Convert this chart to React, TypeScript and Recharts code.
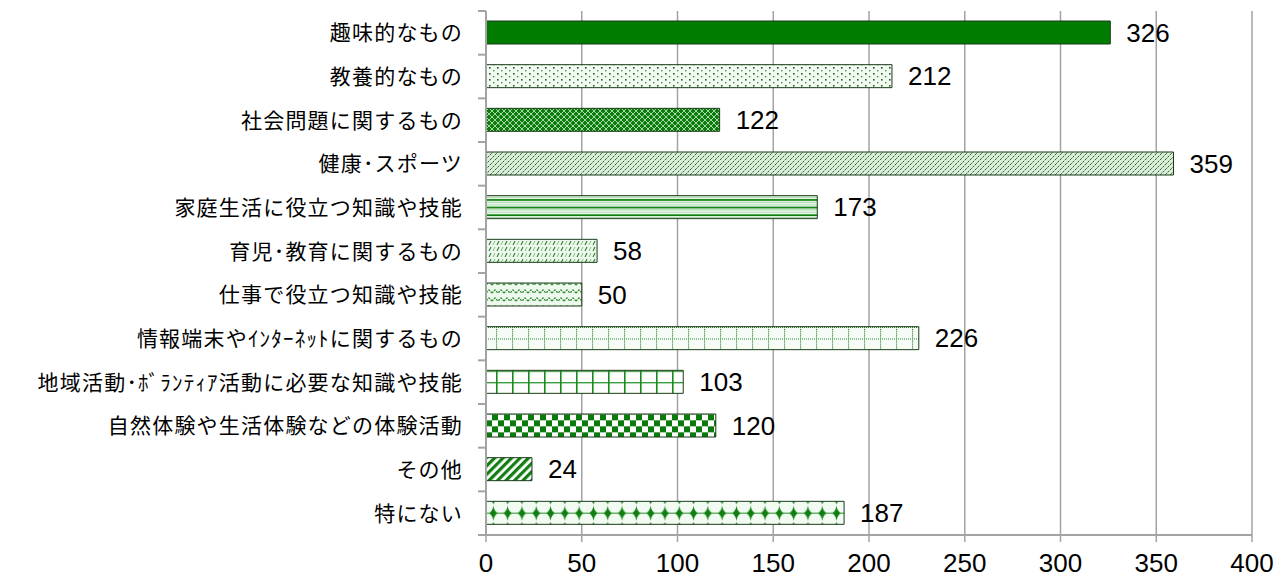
import React from 'react';
import { BarChart, Bar, XAxis, YAxis, CartesianGrid, Cell, LabelList } from 'recharts';

const categories = [
  '趣味的なもの',
  '教養的なもの',
  '社会問題に関するもの',
  '健康･スポーツ',
  '家庭生活に役立つ知識や技能',
  '育児･教育に関するもの',
  '仕事で役立つ知識や技能',
  '情報端末やｲﾝﾀｰﾈｯﾄに関するもの',
  '地域活動･ﾎﾞﾗﾝﾃｨｱ活動に必要な知識や技能',
  '自然体験や生活体験などの体験活動',
  'その他',
  '特にない',
];
const values = [326, 212, 122, 359, 173, 58, 50, 226, 103, 120, 24, 187];
const xTicks = [0, 50, 100, 150, 200, 250, 300, 350, 400];
const fills = [
  '#007d00',
  'url(#p2)',
  'url(#p3)',
  'url(#p4)',
  'url(#p5)',
  'url(#p6)',
  'url(#p7)',
  'url(#p8)',
  'url(#p9)',
  'url(#p10)',
  'url(#p11)',
  'url(#p12)',
];

const data = categories.map((name, i) => ({ name, value: values[i] }));

const W = 1277;
const H = 578;
const TOP = 11;
const RIGHT = 25;
const YW = 486;
const XH = 43;
const BAR = 23;
const BAND = (H - XH - TOP) / categories.length;
const barTop = (i: number) => TOP + i * BAND + (BAND - BAR) / 2;

const GRID = '#a3a3a3';
const JP = '"Noto Sans CJK JP", "Noto Sans", sans-serif';
const NUM = '"Liberation Sans", Arial, sans-serif';

const CatTick = (props: any) => {
  const { y, payload, index } = props;
  const last = index === categories.length - 1;
  return (
    <g>
      <text
        x={YW - 23}
        y={y}
        dy="0.36em"
        textAnchor="end"
        fontSize={21}
        letterSpacing={1.2}
        fontFamily={JP}
        fill="#000"
      >
        {payload.value}
      </text>
      <line x1={YW - 8} x2={YW} y1={y - BAND / 2} y2={y - BAND / 2} stroke={GRID} strokeWidth={2} />
      {last && <line x1={YW - 8} x2={YW} y1={y + BAND / 2} y2={y + BAND / 2} stroke={GRID} strokeWidth={2} />}
    </g>
  );
};

const Patterns = () => (
  <svg width={0} height={0} style={{ position: 'absolute' }}>
    <defs>
      <pattern id="p2" width="8" height="6" patternUnits="userSpaceOnUse">
        <rect width="8" height="6" fill="#f1faf1" />
        <rect x="1" y="1" width="1.6" height="1.6" fill="#2a5a2a" />
        <rect x="5" y="4" width="1.4" height="1.4" fill="#4d8d4d" />
      </pattern>
      <pattern id="p3" width="6" height="6" patternUnits="userSpaceOnUse">
        <rect width="6" height="6" fill="#0b7d0b" />
        <path d="M0,3 L3,0 L6,3 L3,6 Z" fill="none" stroke="#d2eed2" strokeWidth="0.8" />
      </pattern>
      <pattern id="p4" width="5" height="5" patternUnits="userSpaceOnUse">
        <rect width="5" height="5" fill="#d9eed9" />
        <path d="M0,5 L5,0 M-1,1 L1,-1 M4,6 L6,4" stroke="#2f5f2f" strokeWidth="1" strokeDasharray="2.5 1" />
      </pattern>
      <pattern id="p5" width="8" height={BAR / 3} y={barTop(4)} patternUnits="userSpaceOnUse">
        <rect width="8" height={BAR / 3} fill="#ffffff" />
        <rect y="0.6" width="8" height="1" fill="#8fcf8f" />
        <rect y="3" width="8" height="1.8" fill="#0a7d0a" />
        <rect y="5.8" width="8" height="1" fill="#8fcf8f" />
      </pattern>
      <pattern id="p6" width="8" height="6" patternUnits="userSpaceOnUse">
        <rect width="8" height="6" fill="#eef9ee" />
        <path d="M1,5 L3,1" stroke="#2e7d2e" strokeWidth="1.1" />
        <path d="M5,5 L7,1" stroke="#7fbf7f" strokeWidth="1" />
      </pattern>
      <pattern id="p7" width="12" height="8" patternUnits="userSpaceOnUse">
        <rect width="12" height="8" fill="#eef9ee" />
        <path d="M0,5 L3,2 L6,5 L9,2 L12,5" fill="none" stroke="#2e8b2e" strokeWidth="1.3" strokeDasharray="2 1" />
      </pattern>
      <pattern id="p8" width="16" height={BAR / 2} y={barTop(7)} patternUnits="userSpaceOnUse">
        <rect width="16" height={BAR / 2} fill="#f5fcf5" />
        <path d={`M0.5,0 L0.5,${BAR / 2}`} stroke="#2e7d2e" strokeWidth="1.2" strokeDasharray="1 1" />
        <path d="M0,0.5 L16,0.5" stroke="#2e7d2e" strokeWidth="1" strokeDasharray="1 1" />
      </pattern>
      <pattern id="p9" width="16" height={BAR / 2} y={barTop(8)} patternUnits="userSpaceOnUse">
        <rect width="16" height={BAR / 2} fill="#ffffff" />
        <rect x="0" y="0" width="1.6" height={BAR / 2} fill="#1a8a1a" />
        <rect x="0" y="0" width="16" height="1.2" fill="#1a8a1a" />
      </pattern>
      <pattern id="p10" width="12" height="12" y={barTop(9)} patternUnits="userSpaceOnUse">
        <rect width="12" height="12" fill="#ffffff" />
        <rect x="0" y="0" width="6" height="6" fill="#0a7a0a" />
        <rect x="6" y="6" width="6" height="6" fill="#0a7a0a" />
      </pattern>
      <pattern id="p11" width="6" height="6" patternUnits="userSpaceOnUse" patternTransform="rotate(45)">
        <rect width="6" height="6" fill="#ffffff" />
        <rect width="3.2" height="6" fill="#137f13" />
      </pattern>
      <pattern id="p12" width="14.3" height={BAR} y={barTop(11)} patternUnits="userSpaceOnUse">
        <rect width="14.3" height={BAR} fill="#f2fbf2" />
        <path d="M0,11.5 L14.3,11.5" stroke="#2e8b2e" strokeWidth="1" />
        <path d="M7.15,4 Q8,10 12,11.5 Q8,13 7.15,19 Q6.3,13 2.3,11.5 Q6.3,10 7.15,4 Z" fill="#0f7f0f" />
        <path d="M5.7,0 L7.15,2.5 L8.6,0 Z M5.7,23 L7.15,20.5 L8.6,23 Z" fill="#2e8b2e" />
      </pattern>
    </defs>
  </svg>
);

export default function App() {
  return (
    <div style={{ position: 'absolute', left: 0, top: 0, width: W, height: H, background: '#fff' }}>
      <Patterns />
      <BarChart
        width={W}
        height={H}
        data={data}
        layout="vertical"
        margin={{ top: TOP, right: RIGHT, bottom: 0, left: 0 }}
        barSize={BAR}
      >
        <CartesianGrid horizontal={false} stroke={GRID} strokeWidth={1.5} />
        <XAxis
          type="number"
          domain={[0, 400]}
          ticks={xTicks}
          interval={0}
          height={XH}
          axisLine={{ stroke: GRID, strokeWidth: 2 }}
          tickLine={{ stroke: GRID, strokeWidth: 1.5 }}
          tickSize={7}
          tickMargin={12}
          tick={{ fontSize: 26, fontFamily: NUM, fill: '#000' }}
        />
        <YAxis
          type="category"
          dataKey="name"
          width={YW}
          interval={0}
          axisLine={{ stroke: GRID, strokeWidth: 2 }}
          tickLine={false}
          tick={<CatTick />}
        />
        <Bar dataKey="value" isAnimationActive={false} stroke="#1b3b1b" strokeWidth={1}>
          {data.map((d, i) => (
            <Cell key={d.name} fill={fills[i]} />
          ))}
          <LabelList
            dataKey="value"
            position="right"
            offset={16}
            style={{ fontSize: 26, fontFamily: NUM, fill: '#000' }}
          />
        </Bar>
      </BarChart>
    </div>
  );
}
